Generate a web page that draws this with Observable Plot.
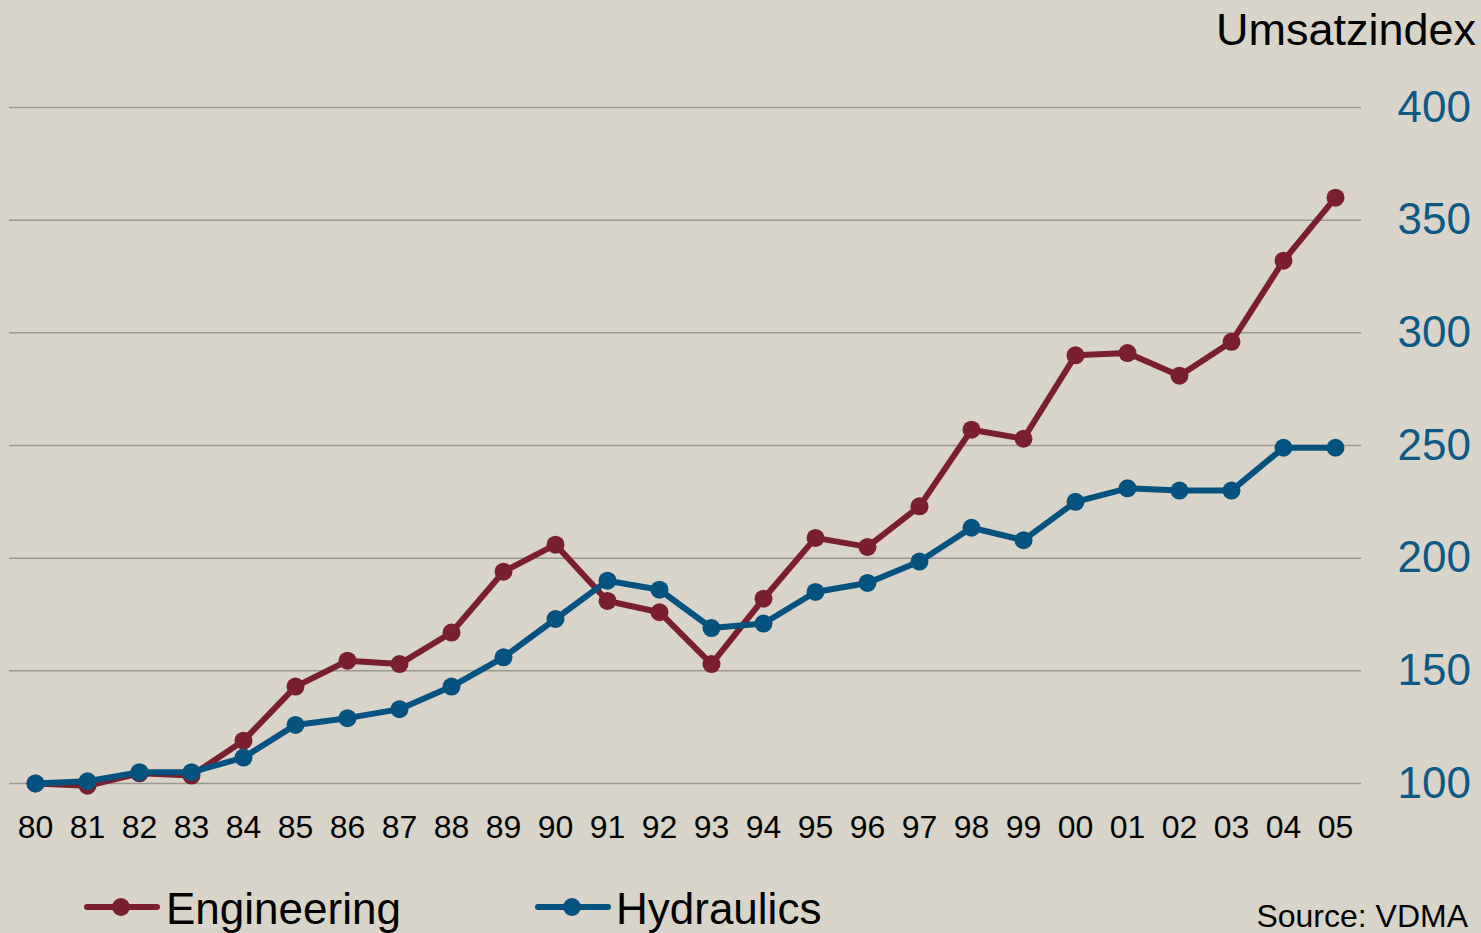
<!DOCTYPE html>
<html>
<head>
<meta charset="utf-8">
<script src="https://cdn.jsdelivr.net/npm/d3@7"></script>
<script src="https://cdn.jsdelivr.net/npm/@observablehq/plot@0.6"></script>
<style>
  html, body { margin: 0; padding: 0; background: #d8d4c9; }
  #wrap { position: relative; width: 1481px; height: 933px; overflow: hidden; background: #d8d4c9; font-family: "Liberation Sans", Arial, sans-serif; }
  #title { position: absolute; top: 7px; right: 5px; font-size: 45px; line-height: 1; color: #000; }
  #chart { position: absolute; top: 55px; left: 0; }
  .leg { position: absolute; font-size: 44px; line-height: 1; color: #000; white-space: nowrap; }
  .sw { position: absolute; }
  #source { position: absolute; right: 13px; top: 902px; font-size: 32px; line-height: 0.9; color: #000; }
</style>
</head>
<body>
<div id="wrap">
  <div id="title">Umsatzindex</div>
  <div id="chart"></div>
  <div id="legend"></div>
  <div id="source">Source: VDMA</div>
</div>
<script>
const years = ["80","81","82","83","84","85","86","87","88","89","90","91","92","93","94","95","96","97","98","99","00","01","02","03","04","05"];
const engineering = [100,99,104.5,103.5,119,143,154.5,153,167,194,206,181,176,153,182,209,205,223,257,253,290,291,281,296,332,360];
const hydraulics = [100,101,105,105,111.5,126,129,133,143,156,173,190,186,169,171,185,189,198.5,213.5,208,225,231,230,230,249,249];
const yTicks = [100,150,200,250,300,350,400];
const seriesNames = ["Engineering","Hydraulics"];
const seriesColors = ["#7a1f2f","#04527f"];

const engData = years.map((y,i) => ({year: y, value: engineering[i]}));
const hydData = years.map((y,i) => ({year: y, value: hydraulics[i]}));

const plot = Plot.plot({
  width: 1481,
  height: 800,
  marginTop: 52,
  marginBottom: 72,
  marginLeft: 9,
  marginRight: 120,
  style: {background: "transparent", fontFamily: "'Liberation Sans', Arial, sans-serif", overflow: "visible"},
  x: {type: "point", domain: years, padding: 0.5, label: null},
  y: {domain: [100, 400], label: null},
  marks: [
    Plot.ruleY(yTicks, {stroke: "#9a9893", strokeWidth: 1.5}),
    Plot.axisX({tickSize: 0, tickPadding: 32, fontSize: 32, fill: "#000", label: null}),
    Plot.axisY({anchor: "right", ticks: yTicks, tickSize: 0, tickPadding: 36, fontSize: 44, fill: "#0d5a86", label: null}),
    Plot.line(engData, {x: "year", y: "value", stroke: seriesColors[0], strokeWidth: 6, strokeLinejoin: "round"}),
    Plot.dot(engData, {x: "year", y: "value", fill: seriesColors[0], r: 9}),
    Plot.line(hydData, {x: "year", y: "value", stroke: seriesColors[1], strokeWidth: 6, strokeLinejoin: "round"}),
    Plot.dot(hydData, {x: "year", y: "value", fill: seriesColors[1], r: 9})
  ]
});
document.getElementById("chart").appendChild(plot);

// Legend
const legend = document.getElementById("legend");
const legPos = [{sw: 84, text: 166}, {sw: 535, text: 616}];
seriesNames.forEach((name, i) => {
  const sw = document.createElementNS("http://www.w3.org/2000/svg", "svg");
  sw.setAttribute("class", "sw");
  sw.setAttribute("width", 76);
  sw.setAttribute("height", 22);
  sw.style.left = legPos[i].sw + "px";
  sw.style.top = "896px";
  sw.innerHTML = `<line x1="3" y1="11" x2="73" y2="11" stroke="${seriesColors[i]}" stroke-width="6" stroke-linecap="round"/><circle cx="37" cy="11" r="9" fill="${seriesColors[i]}"/>`;
  legend.appendChild(sw);
  const t = document.createElement("div");
  t.className = "leg";
  t.textContent = name;
  t.style.left = legPos[i].text + "px";
  t.style.top = "887px";
  legend.appendChild(t);
});
</script>
</body>
</html>
